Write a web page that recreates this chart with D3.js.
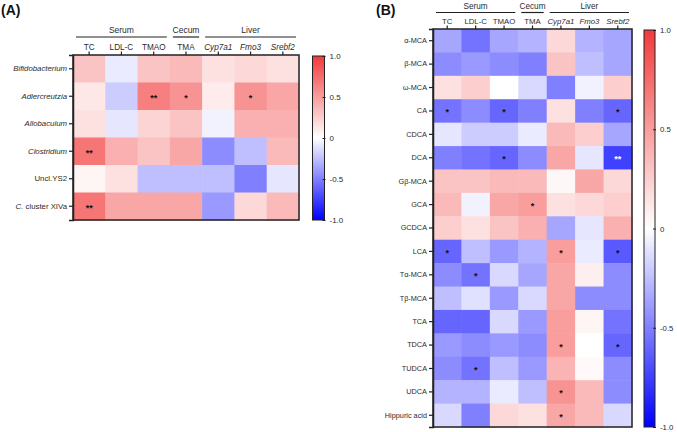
<!DOCTYPE html>
<html><head><meta charset="utf-8">
<script src="https://cdn.jsdelivr.net/npm/d3@7"></script>
<style>body{margin:0;background:#fff}svg{display:block;font-family:Arial,"Liberation Sans",sans-serif}</style>
</head><body><svg id="c" width="677" height="432"></svg>
<script>
const columns = ["TC","LDL-C","TMAO","TMA","Cyp7a1","Fmo3","Srebf2"];
const italicCols = ["Cyp7a1","Fmo3","Srebf2"];
const groups = [{name:"Serum",from:0,to:2},{name:"Cecum",from:3,to:3},{name:"Liver",from:4,to:6}];
const rowsA = ["Bifidobacterium","Adlercreutzia","Allobaculum","Clostridium","Uncl.YS2","C. cluster XIVa"];
const valuesA = [
  [0.30,-0.08,0.30,0.35,0.15,0.20,0.15],
  [0.12,-0.20,0.65,0.55,0.10,0.55,0.45],
  [0.15,-0.10,0.22,0.30,-0.05,0.40,0.40],
  [0.70,0.40,0.30,0.45,-0.45,-0.25,0.35],
  [0.05,0.15,-0.25,-0.25,-0.25,-0.50,-0.10],
  [0.70,0.45,0.45,0.45,-0.40,0.20,0.35]
];
const sigA = [
  ["","","","","","",""],
  ["","","**","*","","*",""],
  ["","","","","","",""],
  ["**","","","","","",""],
  ["","","","","","",""],
  ["**","","","","","",""]
];
const rowsB = ["α-MCA","β-MCA","ω-MCA","CA","CDCA","DCA","Gβ-MCA","GCA","GCDCA","LCA","Tα-MCA","Tβ-MCA","TCA","TDCA","TUDCA","UDCA","Hippuric acid"];
const valuesB = [
  [-0.35,-0.55,-0.35,-0.30,0.20,-0.30,-0.35],
  [-0.45,-0.40,-0.45,-0.50,0.30,-0.25,-0.35],
  [0.15,0.25,0.00,-0.15,-0.50,-0.05,0.25],
  [-0.55,-0.45,-0.60,-0.50,0.15,-0.50,-0.60],
  [-0.10,-0.20,-0.20,-0.08,0.35,0.25,-0.35],
  [-0.50,-0.55,-0.60,-0.45,0.45,-0.10,-0.75],
  [0.30,0.30,0.35,0.35,0.04,0.45,0.20],
  [0.35,-0.05,0.45,0.50,0.15,0.20,0.25],
  [0.25,0.15,0.30,0.40,-0.35,-0.10,0.40],
  [-0.60,-0.25,-0.40,-0.30,0.50,-0.08,-0.65],
  [-0.45,-0.55,-0.15,-0.35,0.45,0.08,-0.45],
  [-0.25,-0.12,-0.40,-0.15,0.45,-0.45,-0.45],
  [-0.60,-0.60,-0.15,-0.40,0.50,0.05,-0.55],
  [-0.40,-0.45,-0.40,-0.45,0.50,0.00,-0.60],
  [-0.45,-0.55,-0.25,-0.40,0.38,0.03,-0.45],
  [-0.30,-0.30,-0.08,-0.25,0.55,0.35,-0.45],
  [-0.15,-0.50,0.20,0.15,0.45,0.35,-0.15]
];
const sigB = [
  ["","","","","","",""],
  ["","","","","","",""],
  ["","","","","","",""],
  ["*","","*","","","","*"],
  ["","","","","","",""],
  ["","","*","","","","**"],
  ["","","","","","",""],
  ["","","","*","","",""],
  ["","","","","","",""],
  ["*","","","","*","","*"],
  ["","*","","","","",""],
  ["","","","","","",""],
  ["","","","","","",""],
  ["","","","","*","","*"],
  ["","*","","","","",""],
  ["","","","","*","",""],
  ["","","","","*","",""]
];
const cbTicks = [1,0.5,0,-0.5,-1];
const cbLabels = ["1.0","0.5","0","-0.5","-1.0"];

const color = d3.scaleLinear().domain([-1,0,1]).range(["#0000ff","#ffffff","#f23a3a"]);
const svg = d3.select("#c");

function panel(cfg){
  const g = svg.append("g");
  const x = d3.scaleBand().domain(columns).range([cfg.x0,cfg.x1]);
  const y = d3.scaleBand().domain(cfg.rows).range([cfg.y0,cfg.y1]);
  cfg.values.forEach((row,i)=>row.forEach((v,j)=>{
    g.append("rect").attr("x",x(columns[j])).attr("y",y(cfg.rows[i]))
      .attr("width",x.bandwidth()+0.5).attr("height",y.bandwidth()+0.5)
      .attr("fill",color(v));
    const s = cfg.sig[i][j];
    if(s){
      g.append("text").attr("x",x(columns[j])+x.bandwidth()/2)
        .attr("y",y(cfg.rows[i])+y.bandwidth()/2+4.5)
        .attr("text-anchor","middle").attr("font-size",9).attr("font-weight","bold")
        .attr("fill", v < -0.7 ? "#fff" : "#111").text(s);
    }
  }));
  g.append("rect").attr("x",cfg.x0).attr("y",cfg.y0).attr("width",cfg.x1-cfg.x0).attr("height",cfg.y1-cfg.y0)
    .attr("fill","none").attr("stroke","#222").attr("stroke-width",1.5);
  // left axis
  const ay = g.append("g").attr("transform",`translate(${cfg.x0},0)`).attr("color","#222")
    .call(d3.axisLeft(y).tickSize(4).tickPadding(2));
  ay.select(".domain").attr("stroke","#222").attr("stroke-width",1.5);
  ay.selectAll(".tick line").attr("stroke","#222").attr("stroke-width",1.2);
  ay.selectAll(".tick text").attr("font-size",cfg.rowFont).attr("fill","#2b2b2b").attr("font-family",null)
    .each(function(d){
      const t = d3.select(this);
      if(cfg.italicRows){
        if(d==="C. cluster XIVa"){
          t.text(null);
          t.append("tspan").attr("font-style","italic").text("C.");
          t.append("tspan").text(" cluster XIVa");
        } else if(d!=="Uncl.YS2"){ t.attr("font-style","italic"); }
      }
    });
  // top axis
  const ax = g.append("g").attr("transform",`translate(0,${cfg.y0})`).attr("color","#222")
    .call(d3.axisTop(x).tickSize(3.5).tickPadding(2));
  ax.select(".domain").remove();
  ax.selectAll(".tick line").attr("stroke","#222").attr("stroke-width",1.2);
  ax.selectAll(".tick text").attr("font-size",cfg.colFont).attr("fill","#2b2b2b").attr("font-family",null)
    .attr("font-style",d=>italicCols.includes(d)?"italic":null);
  // groups
  groups.forEach(gr=>{
    const a = x(columns[gr.from])+3, b = x(columns[gr.to])+x.bandwidth()-3;
    g.append("line").attr("x1",a).attr("x2",b).attr("y1",cfg.gy).attr("y2",cfg.gy).attr("stroke","#222").attr("stroke-width",1.2);
    g.append("text").attr("x",(a+b)/2).attr("y",cfg.gy-4).attr("text-anchor","middle")
      .attr("font-size",cfg.grpFont).attr("fill","#2b2b2b").text(gr.name);
  });
  // colorbar
  const cy = d3.scaleLinear().domain([1,-1]).range([cfg.y0+1,cfg.y1]);
  const gid = "grad"+cfg.id;
  const grad = svg.append("defs").append("linearGradient").attr("id",gid).attr("x1",0).attr("x2",0).attr("y1",0).attr("y2",1);
  d3.range(0,1.0001,0.05).forEach(o=>grad.append("stop").attr("offset",o).attr("stop-color",color(1-2*o)));
  g.append("rect").attr("x",cfg.cbx).attr("y",cy(1)).attr("width",cfg.cbw).attr("height",cy(-1)-cy(1))
    .attr("fill",`url(#${gid})`).attr("stroke","#222").attr("stroke-width",1);
  const ac = g.append("g").attr("transform",`translate(${cfg.cbx+cfg.cbw},0)`).attr("color","#222")
    .call(d3.axisRight(cy).tickValues(cbTicks).tickFormat((d,i)=>cbLabels[i]).tickSize(2).tickPadding(3));
  ac.select(".domain").remove();
  ac.selectAll(".tick line").attr("stroke","#222").attr("x1",-2).attr("x2",1);
  ac.selectAll(".tick text").attr("font-size",cfg.cbFont).attr("fill","#2b2b2b").attr("font-family",null);
  // panel label
  svg.append("text").attr("x",cfg.lx).attr("y",cfg.ly).attr("font-size",14).attr("font-weight","bold").attr("fill","#111").text(cfg.label);
}

panel({id:"A",label:"(A)",lx:1,ly:15,rows:rowsA,values:valuesA,sig:sigA,x0:73,x1:299,y0:55,y1:220,
  rowFont:7.8,colFont:8.2,grpFont:8.5,gy:37,italicRows:true,cbx:312.5,cbw:12,cbFont:8});
panel({id:"B",label:"(B)",lx:376,ly:15,rows:rowsB,values:valuesB,sig:sigB,x0:433,x1:632,y0:29,y1:427,
  rowFont:7.3,colFont:7.8,grpFont:8.2,gy:12.5,italicRows:false,cbx:644,cbw:11,cbFont:7.8});
</script></body></html>
